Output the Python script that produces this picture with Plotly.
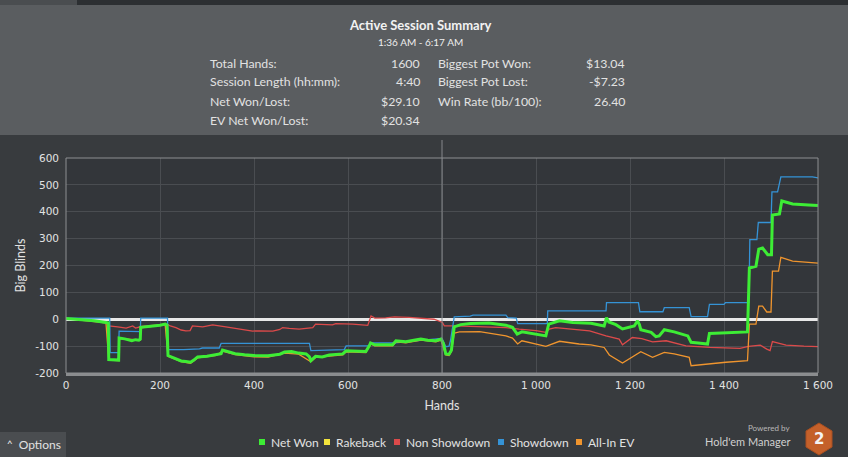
import plotly.graph_objects as go

# ---------------- data ----------------
net_won_hands = [0, 20, 40, 60, 85, 90, 91, 112, 113, 125, 140, 148, 155, 158, 159, 175, 190, 200, 211, 215, 217, 230, 245, 255, 265, 272, 280, 300, 320, 330, 333, 345, 360, 380, 400, 430, 455, 465, 480, 495, 511, 518, 521, 531, 545, 560, 575, 589, 596, 620, 638, 645, 648, 657, 680, 695, 702, 715, 723, 740, 755, 770, 787, 798, 803, 808, 815, 820, 826, 840, 860, 900, 936, 950, 960, 970, 1000, 1021, 1027, 1040, 1050, 1078, 1117, 1145, 1150, 1155, 1170, 1184, 1200, 1209, 1216, 1220, 1223, 1245, 1255, 1262, 1273, 1294, 1323, 1330, 1345, 1365, 1369, 1385, 1404, 1450, 1454, 1468, 1474, 1482, 1493, 1501, 1503, 1518, 1523, 1546, 1580, 1600]
net_won_bb = [3, 0, -2, -6, -12, -14, -150, -152, -70, -73, -80, -76, -78, -74, -30, -27, -25, -22, -18, -22, -135, -145, -155, -157, -160, -152, -140, -138, -130, -128, -115, -122, -128, -132, -135, -136, -130, -122, -120, -126, -129, -140, -154, -138, -140, -133, -131, -129, -117, -119, -120, -100, -88, -95, -96, -95, -80, -82, -84, -78, -74, -78, -80, -74, -90, -129, -130, -115, -28, -20, -16, -14, -22, -30, -55, -47, -55, -62, -18, -10, -6, -12, -15, -25, 6, -10, -20, -36, -28, -25, -6, -20, -39, -49, -65, -62, -39, -47, -62, -86, -88, -92, -53, -52, -49, -47, 191, 197, 261, 265, 240, 240, 388, 392, 440, 429, 425, 423]

non_sd_hands = [0, 40, 85, 91, 110, 128, 142, 148, 160, 190, 215, 222, 234, 245, 255, 264, 269, 291, 312, 340, 360, 380, 397, 411, 440, 455, 461, 475, 496, 525, 531, 567, 574, 610, 642, 649, 657, 680, 699, 730, 759, 783, 801, 805, 830, 864, 936, 964, 1000, 1021, 1028, 1042, 1078, 1114, 1149, 1177, 1184, 1205, 1225, 1248, 1277, 1300, 1319, 1370, 1434, 1452, 1477, 1491, 1498, 1503, 1532, 1570, 1600]
non_sd_bb = [3, -2, -12, -25, -28, -33, -25, -33, -27, -22, -18, -25, -31, -40, -43, -42, -25, -28, -21, -28, -33, -38, -44, -43, -44, -38, -31, -34, -37, -31, -18, -21, -16, -18, -23, 12, 4, 5, 9, 7, 4, 0, -12, -25, -25, -27, -31, -37, -42, -49, -37, -31, -37, -43, -62, -74, -95, -68, -72, -84, -80, -90, -99, -105, -108, -101, -96, -111, -117, -83, -96, -100, -102]

sd_hands = [0, 93, 94, 112, 113, 140, 158, 159, 216, 217, 250, 284, 290, 326, 330, 400, 518, 521, 560, 592, 596, 645, 648, 700, 760, 790, 800, 808, 815, 818, 826, 860, 866, 936, 940, 958, 961, 1024, 1025, 1149, 1150, 1218, 1221, 1270, 1273, 1326, 1330, 1365, 1369, 1400, 1403, 1453, 1455, 1470, 1473, 1500, 1502, 1514, 1521, 1588, 1600]
sd_bb = [4, 4, -124, -124, -44, -46, -46, 4, 4, -113, -113, -110, -107, -107, -90, -90, -90, -117, -115, -113, -99, -99, -88, -88, -78, -71, -71, -102, -100, -80, 9, 12, 15, 15, 6, 4, -16, -16, 31, 31, 62, 62, 28, 28, 43, 43, 10, 10, 55, 55, 62, 62, 296, 296, 360, 360, 474, 474, 530, 530, 526]

allin_hands = [0, 85, 91, 112, 113, 158, 159, 211, 217, 245, 265, 280, 320, 333, 360, 400, 430, 465, 495, 521, 531, 560, 589, 596, 638, 648, 657, 695, 702, 723, 755, 787, 798, 808, 815, 820, 826, 837, 880, 936, 950, 961, 970, 1021, 1042, 1050, 1092, 1117, 1145, 1156, 1184, 1209, 1223, 1248, 1273, 1294, 1326, 1330, 1365, 1404, 1450, 1454, 1468, 1474, 1482, 1491, 1500, 1503, 1516, 1521, 1546, 1600]
allin_bb = [2, -13, -152, -154, -72, -77, -32, -20, -138, -158, -164, -144, -134, -119, -132, -140, -141, -126, -130, -158, -142, -137, -133, -121, -124, -92, -99, -99, -84, -88, -78, -84, -78, -133, -135, -120, -52, -47, -46, -62, -70, -92, -80, -101, -86, -82, -92, -95, -105, -133, -163, -136, -121, -142, -123, -129, -142, -173, -166, -160, -154, -18, -18, 49, 49, 27, 27, 179, 179, 230, 216, 209]

legend_names = ["Net Won", "Rakeback", "Non Showdown", "Showdown", "All-In EV"]
x_tick_vals = [0, 200, 400, 600, 800, 1000, 1200, 1400, 1600]
x_tick_text = ["0", "200", "400", "600", "800", "1 000", "1 200", "1 400", "1 600"]
y_tick_vals = [-200, -100, 0, 100, 200, 300, 400, 500, 600]
y_tick_text = ["-200", "-100", "0", "100", "200", "300", "400", "500", "600"]

summary_left_labels = ["Total Hands:", "Session Length (hh:mm):", "Net Won/Lost:", "EV Net Won/Lost:"]
summary_left_values = ["1600", "4:40", "$29.10", "$20.34"]
summary_right_labels = ["Biggest Pot Won:", "Biggest Pot Lost:", "Win Rate (bb/100):"]
summary_right_values = ["$13.04", "-$7.23", "26.40"]

# ---------------- styling ----------------
W, H = 848, 457
L, R, T, B = 66, 30, 158, 84
PW, PH = W - L - R, H - T - B

def px(x):
    return (x - L) / PW

def py(y):
    return (H - B - y) / PH

C_GREEN = "#3ded35"
C_YELLOW = "#f2e33c"
C_RED = "#dc4a4a"
C_BLUE = "#3593d6"
C_ORANGE = "#f0952e"
legend_colors = [C_GREEN, C_YELLOW, C_RED, C_BLUE, C_ORANGE]

PAPER = "#383b3e"
PLOT = "#33363a"
HEADER = "#5a5d60"
TXT = "#e2e2e2"
UI_FONT = "Lato"
TICK_FONT = "DejaVu Sans"

fig = go.Figure()
fig.add_trace(go.Scatter(x=non_sd_hands, y=non_sd_bb, name=legend_names[2], mode="lines",
                         line=dict(color=C_RED, width=1.3), showlegend=False))
fig.add_trace(go.Scatter(x=sd_hands, y=sd_bb, name=legend_names[3], mode="lines",
                         line=dict(color=C_BLUE, width=1.3), showlegend=False))
fig.add_trace(go.Scatter(x=allin_hands, y=allin_bb, name=legend_names[4], mode="lines",
                         line=dict(color=C_ORANGE, width=1.3), showlegend=False))
fig.add_trace(go.Scatter(x=[], y=[], name=legend_names[1], mode="lines",
                         line=dict(color=C_YELLOW, width=1.3), showlegend=False))
fig.add_trace(go.Scatter(x=net_won_hands, y=net_won_bb, name=legend_names[0], mode="lines",
                         line=dict(color=C_GREEN, width=3), showlegend=False))

shapes = []
annotations = []

# header panel + top strip
shapes.append(dict(type="rect", xref="paper", yref="paper", x0=px(0), x1=px(W), y0=py(5), y1=py(0),
                   fillcolor="#2c2f32", line_width=0, layer="below"))
shapes.append(dict(type="rect", xref="paper", yref="paper", x0=px(0), x1=px(77), y0=py(5), y1=py(0),
                   fillcolor="#4a4d50", line_width=0, layer="below"))
shapes.append(dict(type="rect", xref="paper", yref="paper", x0=px(0), x1=px(W), y0=py(135), y1=py(5),
                   fillcolor=HEADER, line_width=0, layer="below"))
# crosshair at 800
shapes.append(dict(type="line", xref="x", yref="paper", x0=800, x1=800, y0=0, y1=py(140),
                   line=dict(color="#85888b", width=1)))
# plot frame
shapes.append(dict(type="rect", xref="paper", yref="paper", x0=0, x1=1, y0=0, y1=1,
                   line=dict(color="#8d8f91", width=1)))
# options button
shapes.append(dict(type="rect", xref="paper", yref="paper", x0=px(0), x1=px(66), y0=py(457), y1=py(432),
                   fillcolor="#4a4d50", line_width=0, layer="below"))
# logo hexagon
hx, hy, hr = 819, 439, 16
hexpath = "M {} {} L {} {} L {} {} L {} {} L {} {} L {} {} Z".format(
    px(hx), py(hy - hr), px(hx + 13), py(hy - hr / 2), px(hx + 13), py(hy + hr / 2),
    px(hx), py(hy + hr), px(hx - 13), py(hy + hr / 2), px(hx - 13), py(hy - hr / 2))
shapes.append(dict(type="path", xref="paper", yref="paper", path=hexpath,
                   fillcolor="#c4602a", line=dict(color="#a94f20", width=1)))

# legend (squares + labels)
legend_px = [259, 324, 394, 498, 576]
for name, col, lx in zip(legend_names, legend_colors, legend_px):
    shapes.append(dict(type="rect", xref="paper", yref="paper", x0=px(lx), x1=px(lx + 6),
                       y0=py(445), y1=py(439), fillcolor=col, line_width=0))
    annotations.append(dict(xref="paper", yref="paper", x=px(lx + 10), y=py(442), text=name,
                            showarrow=False, xanchor="left", yanchor="middle",
                            font=dict(family=UI_FONT, size=12, color=TXT)))

# header texts
annotations.append(dict(xref="paper", yref="paper", x=px(420), y=py(25), text="<b>Active Session Summary</b>",
                        showarrow=False, xanchor="center", yanchor="middle",
                        font=dict(family=UI_FONT, size=13, color="#f2f2f2")))
annotations.append(dict(xref="paper", yref="paper", x=px(420), y=py(42), text="1:36 AM - 6:17 AM",
                        showarrow=False, xanchor="center", yanchor="middle",
                        font=dict(family=UI_FONT, size=10, color="#eeeeee")))
row_y = [63, 82, 101, 120]
ROW_SIZE = 12.3
for i, (lab, val) in enumerate(zip(summary_left_labels, summary_left_values)):
    annotations.append(dict(xref="paper", yref="paper", x=px(208), y=py(row_y[i]), text=lab, showarrow=False,
                            xanchor="left", yanchor="middle", font=dict(family=UI_FONT, size=ROW_SIZE, color=TXT)))
    annotations.append(dict(xref="paper", yref="paper", x=px(422), y=py(row_y[i]), text=val, showarrow=False,
                            xanchor="right", yanchor="middle", font=dict(family=UI_FONT, size=ROW_SIZE, color=TXT)))
for i, (lab, val) in enumerate(zip(summary_right_labels, summary_right_values)):
    annotations.append(dict(xref="paper", yref="paper", x=px(436), y=py(row_y[i]), text=lab, showarrow=False,
                            xanchor="left", yanchor="middle", font=dict(family=UI_FONT, size=ROW_SIZE, color=TXT)))
    annotations.append(dict(xref="paper", yref="paper", x=px(627), y=py(row_y[i]), text=val, showarrow=False,
                            xanchor="right", yanchor="middle", font=dict(family=UI_FONT, size=ROW_SIZE, color=TXT)))

# options button text
annotations.append(dict(xref="paper", yref="paper", x=px(5), y=py(444), text="\u02c4  Options", showarrow=False,
                        xanchor="left", yanchor="middle", font=dict(family=UI_FONT, size=12, color=TXT)))
# powered by
annotations.append(dict(xref="paper", yref="paper", x=px(792), y=py(428), text="Powered by", showarrow=False,
                        xanchor="right", yanchor="middle", font=dict(family=UI_FONT, size=8, color="#b8b8b8")))
annotations.append(dict(xref="paper", yref="paper", x=px(792), y=py(441), text="Hold'em Manager", showarrow=False,
                        xanchor="right", yanchor="middle", font=dict(family=UI_FONT, size=11, color="#d0d0d0")))
annotations.append(dict(xref="paper", yref="paper", x=px(hx), y=py(hy), text="<b>2</b>", showarrow=False,
                        xanchor="center", yanchor="middle", font=dict(family="DejaVu Sans", size=15, color="#f4f4f4")))

fig.update_layout(
    width=W, height=H,
    margin=dict(l=L, r=R, t=T, b=B, pad=0),
    paper_bgcolor=PAPER, plot_bgcolor=PLOT,
    showlegend=False,
    shapes=shapes, annotations=annotations,
    xaxis=dict(range=[0, 1600], tickvals=x_tick_vals, ticktext=x_tick_text,
               showgrid=True, gridcolor="#4a4d51", gridwidth=1, zeroline=False,
               showline=True, linecolor="#8a8c8e", linewidth=3,
               tickfont=dict(family=TICK_FONT, size=10.5, color=TXT), ticks="",
               title=dict(text="Hands", font=dict(family=UI_FONT, size=12.5, color=TXT), standoff=12),
               fixedrange=True),
    yaxis=dict(range=[-200, 600], tickvals=y_tick_vals, ticktext=y_tick_text,
               showgrid=True, gridcolor="#4a4d51", gridwidth=1,
               zeroline=True, zerolinecolor="#e8e8e8", zerolinewidth=2.5,
               showline=False, ticks="", ticklabelstandoff=6,
               tickfont=dict(family=TICK_FONT, size=10.5, color=TXT),
               title=dict(text="Big Blinds", font=dict(family=UI_FONT, size=12.5, color=TXT), standoff=6),
               fixedrange=True),
)

fig.write_html("out.html", config={"displayModeBar": False},
               post_script="document.body.style.margin='0';document.body.style.overflow='hidden';")
